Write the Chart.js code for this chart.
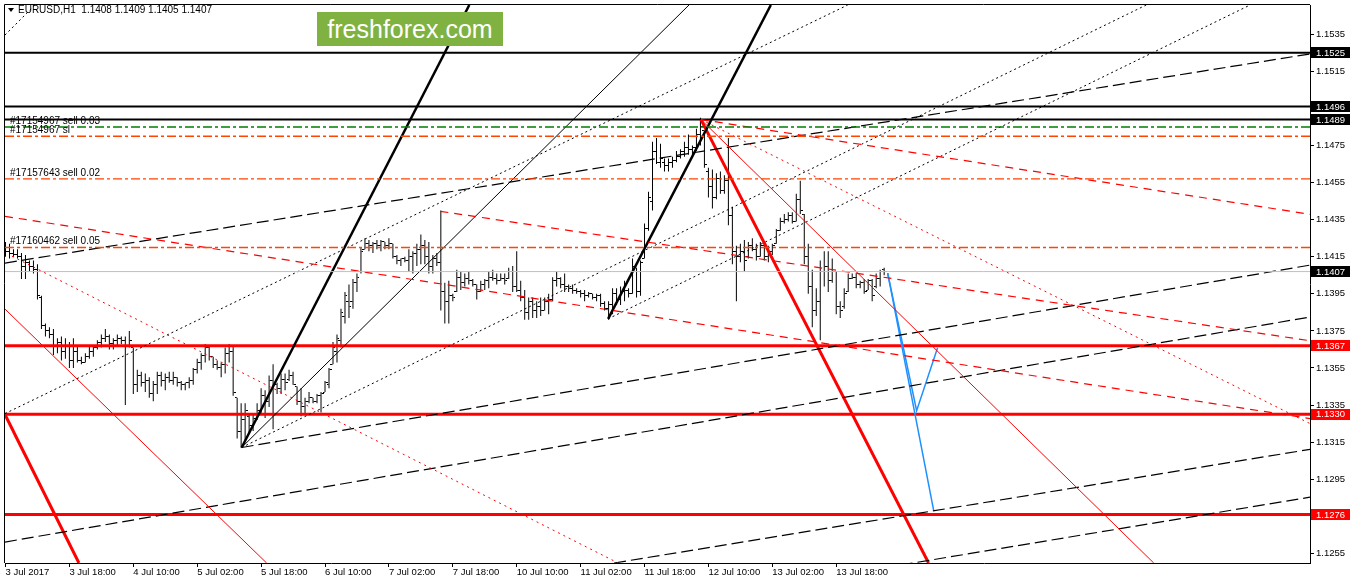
<!DOCTYPE html>
<html>
<head>
<meta charset="utf-8">
<title>EURUSD,H1</title>
<script src="https://cdn.jsdelivr.net/npm/chart.js@4.4.1/dist/chart.umd.min.js"></script>
<style>
	html, body { margin:0; padding:0; background:#fff; }
	#wrap { position:relative; width:1350px; height:584px; overflow:hidden; }
	#logo { position:absolute; left:317px; top:12px; width:186px; height:34px; background:#7fb241; color:#fff;
		font:25px "Liberation Sans", Arial, sans-serif; line-height:34px; text-align:center; }
</style>
</head>
<body>
<div id="wrap">
	<canvas id="chart" width="1350" height="584"></canvas>
	<div id="logo">freshforex.com</div>
</div>
<script>
// hourly bars, index 0 = 3 Jul 2017
var opens = [1.1421,1.1418,1.1417,1.1416,1.1415,1.1410,1.1412,1.1410,1.1408,1.1393,1.1378,1.1375,1.1373,1.1367,1.1369,1.1364,1.1367,1.1359,1.1364,1.1359,
	1.1358,1.1361,1.1364,1.1366,1.1369,1.1371,1.1372,1.1368,1.1370,1.1371,1.1370,1.1367,1.1366,1.1346,1.1351,1.1347,1.1348,1.1341,1.1346,1.1351,
	1.1348,1.1350,1.1348,1.1350,1.1347,1.1346,1.1347,1.1348,1.1354,1.1358,1.1362,1.1366,1.1361,1.1357,1.1355,1.1357,1.1363,1.1364,1.1339,1.1321,
	1.1327,1.1329,1.1324,1.1328,1.1332,1.1340,1.1337,1.1348,1.1346,1.1344,1.1349,1.1349,1.1351,1.1345,1.1337,1.1334,1.1337,1.1339,1.1337,1.1340,
	1.1342,1.1346,1.1357,1.1364,1.1370,1.1383,1.1391,1.1391,1.1401,1.1407,1.1419,1.1422,1.1421,1.1422,1.1421,1.1423,1.1421,1.1422,1.1415,1.1413,
	1.1414,1.1413,1.1415,1.1417,1.1419,1.1421,1.1415,1.1410,1.1414,1.1412,1.1396,1.1391,1.1394,1.1396,1.1404,1.1401,1.1403,1.1402,1.1400,1.1396,
	1.1400,1.1402,1.1404,1.1403,1.1402,1.1403,1.1403,1.1407,1.1399,1.1397,1.1393,1.1385,1.1391,1.1386,1.1388,1.1386,1.1391,1.1392,1.1402,1.1403,
	1.1400,1.1399,1.1398,1.1397,1.1396,1.1395,1.1394,1.1395,1.1393,1.1394,1.1390,1.1387,1.1389,1.1395,1.1392,1.1396,1.1397,1.1395,1.1409,1.1396,
	1.1414,1.1430,1.1445,1.1472,1.1466,1.1466,1.1464,1.1466,1.1467,1.1469,1.1472,1.1474,1.1473,1.1474,1.1481,1.1483,1.1461,1.1453,1.1447,1.1457,
	1.1451,1.1456,1.1437,1.1418,1.1415,1.1418,1.1415,1.1421,1.1419,1.1415,1.1421,1.1415,1.1418,1.1422,1.1429,1.1434,1.1435,1.1437,1.1434,1.1446,
	1.1438,1.1415,1.1399,1.1386,1.1391,1.1407,1.1410,1.1402,1.1407,1.1388,1.1388,1.1396,1.1403,1.1404,1.1400,1.1401,1.1397,1.1402,1.1399,1.1403,
	1.1408];
var highs = [1.1423,1.1422,1.1419,1.1419,1.1417,1.1416,1.1413,1.1413,1.1411,1.1394,1.1379,1.1377,1.1376,1.1371,1.1372,1.1371,1.1369,1.1371,1.1367,1.1361,
	1.1363,1.1367,1.1367,1.1370,1.1373,1.1376,1.1373,1.1371,1.1373,1.1372,1.1372,1.1375,1.1366,1.1354,1.1353,1.1352,1.1350,1.1348,1.1353,1.1353,
	1.1352,1.1353,1.1353,1.1350,1.1348,1.1347,1.1350,1.1355,1.1360,1.1363,1.1368,1.1367,1.1361,1.1359,1.1358,1.1366,1.1368,1.1367,1.1339,1.1336,
	1.1336,1.1330,1.1330,1.1336,1.1344,1.1343,1.1351,1.1357,1.1347,1.1352,1.1352,1.1354,1.1353,1.1345,1.1344,1.1339,1.1342,1.1339,1.1341,1.1342,
	1.1348,1.1355,1.1369,1.1373,1.1387,1.1396,1.1400,1.1403,1.1406,1.1420,1.1425,1.1424,1.1423,1.1424,1.1424,1.1423,1.1425,1.1422,1.1416,1.1414,
	1.1415,1.1419,1.1418,1.1422,1.1427,1.1424,1.1423,1.1416,1.1417,1.1440,1.1401,1.1402,1.1395,1.1408,1.1407,1.1406,1.1407,1.1403,1.1400,1.1402,
	1.1403,1.1407,1.1408,1.1406,1.1406,1.1406,1.1409,1.1410,1.1418,1.1402,1.1397,1.1393,1.1393,1.1391,1.1393,1.1393,1.1395,1.1404,1.1407,1.1404,
	1.1406,1.1400,1.1400,1.1398,1.1397,1.1397,1.1396,1.1395,1.1395,1.1395,1.1391,1.1391,1.1398,1.1398,1.1399,1.1402,1.1398,1.1414,1.1409,1.1413,
	1.1433,1.1450,1.1477,1.1479,1.1476,1.1468,1.1468,1.1469,1.1472,1.1473,1.1477,1.1481,1.1475,1.1484,1.1490,1.1483,1.1463,1.1462,1.1460,1.1461,
	1.1459,1.1479,1.1442,1.1421,1.1422,1.1424,1.1423,1.1425,1.1422,1.1423,1.1422,1.1421,1.1422,1.1430,1.1436,1.1438,1.1439,1.1439,1.1449,1.1456,
	1.1438,1.1422,1.1408,1.1398,1.1413,1.1418,1.1418,1.1414,1.1407,1.1391,1.1398,1.1406,1.1406,1.1406,1.1402,1.1403,1.1403,1.1403,1.1406,1.1408,
	1.1409];
var lows = [1.1415,1.1414,1.1415,1.1414,1.1403,1.1403,1.1407,1.1406,1.1392,1.1376,1.1372,1.1371,1.1362,1.1363,1.1359,1.1360,1.1355,1.1355,1.1358,1.1357,
	1.1358,1.1360,1.1361,1.1365,1.1366,1.1369,1.1365,1.1365,1.1367,1.1368,1.1335,1.1366,1.1341,1.1342,1.1345,1.1342,1.1339,1.1337,1.1341,1.1345,
	1.1343,1.1347,1.1346,1.1345,1.1343,1.1343,1.1344,1.1346,1.1352,1.1354,1.1358,1.1359,1.1355,1.1354,1.1350,1.1352,1.1358,1.1340,1.1317,1.1312,
	1.1316,1.1320,1.1321,1.1327,1.1330,1.1328,1.1334,1.1322,1.1341,1.1341,1.1343,1.1348,1.1346,1.1335,1.1329,1.1330,1.1336,1.1336,1.1336,1.1331,
	1.1342,1.1344,1.1357,1.1358,1.1366,1.1379,1.1382,1.1387,1.1396,1.1406,1.1419,1.1418,1.1417,1.1419,1.1418,1.1419,1.1419,1.1414,1.1411,1.1410,
	1.1412,1.1407,1.1406,1.1410,1.1411,1.1411,1.1406,1.1406,1.1410,1.1386,1.1379,1.1379,1.1391,1.1396,1.1397,1.1399,1.1400,1.1399,1.1392,1.1396,
	1.1397,1.1398,1.1402,1.1400,1.1402,1.1400,1.1403,1.1396,1.1396,1.1391,1.1381,1.1381,1.1382,1.1382,1.1383,1.1386,1.1384,1.1391,1.1399,1.1398,
	1.1396,1.1396,1.1395,1.1395,1.1393,1.1391,1.1393,1.1392,1.1391,1.1388,1.1386,1.1381,1.1384,1.1389,1.1389,1.1391,1.1393,1.1395,1.1393,1.1394,
	1.1414,1.1429,1.1440,1.1465,1.1463,1.1461,1.1461,1.1463,1.1466,1.1468,1.1469,1.1470,1.1470,1.1472,1.1475,1.1463,1.1447,1.1441,1.1446,1.1449,
	1.1449,1.1432,1.1411,1.1391,1.1412,1.1407,1.1414,1.1418,1.1413,1.1415,1.1413,1.1412,1.1416,1.1422,1.1429,1.1433,1.1434,1.1433,1.1434,1.1438,
	1.1411,1.1395,1.1377,1.1383,1.1370,1.1399,1.1396,1.1401,1.1384,1.1382,1.1387,1.1396,1.1403,1.1398,1.1398,1.1395,1.1397,1.1391,1.1398,1.1399,
	1.1405];
var closes = [1.1418,1.1417,1.1416,1.1415,1.1410,1.1412,1.1410,1.1408,1.1394,1.1378,1.1375,1.1373,1.1367,1.1369,1.1364,1.1367,1.1359,1.1364,1.1359,1.1358,
	1.1361,1.1364,1.1366,1.1369,1.1371,1.1372,1.1368,1.1370,1.1371,1.1370,1.1367,1.1370,1.1346,1.1351,1.1347,1.1348,1.1341,1.1346,1.1351,1.1348,
	1.1350,1.1348,1.1350,1.1347,1.1346,1.1347,1.1348,1.1354,1.1358,1.1362,1.1366,1.1361,1.1357,1.1355,1.1357,1.1363,1.1364,1.1342,1.1321,1.1327,
	1.1332,1.1324,1.1328,1.1332,1.1340,1.1337,1.1348,1.1346,1.1344,1.1349,1.1347,1.1351,1.1346,1.1337,1.1334,1.1337,1.1339,1.1337,1.1340,1.1341,
	1.1347,1.1354,1.1366,1.1371,1.1385,1.1394,1.1388,1.1401,1.1404,1.1418,1.1422,1.1421,1.1422,1.1421,1.1423,1.1421,1.1422,1.1415,1.1413,1.1414,
	1.1413,1.1415,1.1417,1.1419,1.1421,1.1415,1.1410,1.1414,1.1412,1.1396,1.1391,1.1394,1.1393,1.1404,1.1401,1.1403,1.1402,1.1400,1.1396,1.1400,
	1.1402,1.1404,1.1403,1.1402,1.1403,1.1402,1.1407,1.1399,1.1397,1.1393,1.1385,1.1391,1.1386,1.1388,1.1386,1.1391,1.1392,1.1402,1.1403,1.1400,
	1.1399,1.1398,1.1397,1.1396,1.1395,1.1394,1.1395,1.1393,1.1394,1.1390,1.1387,1.1389,1.1395,1.1392,1.1396,1.1397,1.1395,1.1410,1.1396,1.1412,
	1.1430,1.1447,1.1472,1.1466,1.1468,1.1464,1.1466,1.1467,1.1469,1.1472,1.1474,1.1473,1.1474,1.1481,1.1485,1.1465,1.1453,1.1447,1.1457,1.1451,
	1.1456,1.1437,1.1418,1.1415,1.1418,1.1413,1.1421,1.1419,1.1415,1.1421,1.1415,1.1418,1.1421,1.1429,1.1434,1.1435,1.1437,1.1434,1.1446,1.1440,
	1.1415,1.1399,1.1386,1.1391,1.1407,1.1410,1.1402,1.1407,1.1388,1.1386,1.1395,1.1403,1.1404,1.1400,1.1401,1.1396,1.1402,1.1394,1.1403,1.1407,
	1.1407];

// axes
var xTickIndex  = [0,16,32,48,64,80,96,112,128,144,160,176,192,208];
var xTickLabels = ['3 Jul 2017','3 Jul 18:00','4 Jul 10:00','5 Jul 02:00','5 Jul 18:00','6 Jul 10:00','7 Jul 02:00',
	'7 Jul 18:00','10 Jul 10:00','11 Jul 02:00','11 Jul 18:00','12 Jul 10:00','13 Jul 02:00','13 Jul 18:00'];
var yTicks = [1.1255,1.1275,1.1295,1.1315,1.1335,1.1355,1.1375,1.1395,1.1415,1.1435,1.1455,1.1475,1.1495,1.1515,1.1535];
var xMin = -0.125, xMax = 326.625;
var yMin = 1.12498, yMax = 1.15508;

// horizontal levels
var blackLevels = [1.1525, 1.1496, 1.1489];
var redLevels   = [1.1367, 1.1330, 1.1276];
var bidPrice    = 1.1407;
var orderLabels = ['#17154967 sell 0.03', '#17154967 sl', '#17157643 sell 0.02', '#17160462 sell 0.05'];
var orderPrices = [1.1485, 1.1480, 1.1457, 1.1420];
var orderColors = ['#008000', '#ff4500', '#ff4500', '#ff4500'];
var header = 'EURUSD,H1  1.1408 1.1409 1.1405 1.1407';

// trend lines: [bar, price, bar, price, ...]
var thickBlackLines = [[59.13,1.13121,116.13,1.15508], [150.88,1.13815,191.63,1.15508]];
var thinBlackLines  = [[59.13,1.13121,171.13,1.15508]];
var blackDashLines  = [[-0.13,1.14116,326.63,1.15244], [59.13,1.13121,326.63,1.14105], [-0.13,1.12611,326.63,1.13825],
	[152.38,1.12498,326.63,1.13111], [224.13,1.12487,326.63,1.12853]];
var blackDotLines   = [[-0.13,1.13304,210.88,1.15508], [59.13,1.13121,285.63,1.15508], [150.88,1.13815,311.63,1.15508],
	[-0.13,1.15346,7.38,1.15508]];
var thickRedLines   = [[174.13,1.14890,231.13,1.12498], [-0.13,1.13299,18.38,1.12498]];
var thinRedLines    = [[-0.13,1.13868,65.38,1.12498], [174.13,1.14890,287.5,1.12498]];
var redDashLines    = [[108.88,1.14395,326.63,1.13697], [-0.13,1.14368,326.63,1.13277], [174.13,1.14890,326.63,1.14379]];
var redDotLines     = [[1.63,1.14153,153.38,1.12498], [174.13,1.14890,326.63,1.13250]];
var blueLines       = [[220.88,1.14062,232.38,1.12783], [220.88,1.14062,228.13,1.13320,233.38,1.13659]];

var FONT = '"Liberation Sans", Arial, sans-serif';

// open/close marks: 2px to the left / right of the bar
function tickMark(side){
	var c = document.createElement('canvas');
	c.width = 5; c.height = 1;
	var g = c.getContext('2d');
	g.fillStyle = '#000';
	g.fillRect(side < 0 ? 0 : 3, 0, 2, 1);
	return c;
}

function lineSet(pts, color, width, dash){
	var data = [];
	for (var k = 0; k < pts.length; k += 2) data.push({x: pts[k], y: pts[k+1]});
	return { type:'line', data:data, borderColor:color, borderWidth:width, borderDash:dash || [],
		pointRadius:0, fill:false, tension:0, order:1 };
}

function addLines(list, lines, color, width, dash){
	lines.forEach(function(l){ list.push(lineSet(l, color, width, dash)); });
}

var datasets = [];
datasets.push({
	type:'bar',
	data: highs.map(function(h, i){ return {x:i, y:[lows[i], h]}; }),
	backgroundColor:'#000', borderWidth:0, barThickness:1, inflateAmount:0, order:10
});
datasets.push({
	type:'line', showLine:false, order:9,
	data: opens.map(function(v, i){ return {x:i, y:v}; }),
	pointStyle: tickMark(-1), pointRadius:2
});
datasets.push({
	type:'line', showLine:false, order:9,
	data: closes.map(function(v, i){ return {x:i, y:v}; }),
	pointStyle: tickMark(1), pointRadius:2
});

datasets.push(lineSet([xMin, bidPrice, xMax, bidPrice], '#c0c0c0', 1));
orderPrices.forEach(function(p, k){
	datasets.push(lineSet([xMin, p, xMax, p], orderColors[k], 1.3, [9,3,3,3]));
});
addLines(datasets, redDotLines, '#ff0000', 1, [2,4]);
addLines(datasets, redDashLines, '#ff0000', 1.2, [8,6]);
addLines(datasets, thinRedLines, '#ff0000', 1);
addLines(datasets, blackDotLines, '#000', 1, [2,3]);
addLines(datasets, blackDashLines, '#000', 1.2, [12,5]);
addLines(datasets, thinBlackLines, '#000', 1);
addLines(datasets, thickBlackLines, '#000', 2.5);
addLines(datasets, thickRedLines, '#ff0000', 3);
addLines(datasets, blueLines, '#1e90ff', 1.5);
blackLevels.forEach(function(p){ datasets.push(lineSet([xMin, p, xMax, p], '#000', 2)); });
redLevels.forEach(function(p){ datasets.push(lineSet([xMin, p, xMax, p], '#ff0000', 3)); });

// frame, header, order texts and price boxes on the right scale
var mt4Plugin = {
	id: 'mt4',
	afterDraw: function(chart){
		var ctx = chart.ctx, a = chart.chartArea, y = chart.scales.y;
		ctx.save();
		ctx.strokeStyle = '#000'; ctx.lineWidth = 1;
		ctx.beginPath();
		ctx.moveTo(a.left - 0.5, a.bottom); ctx.lineTo(a.left - 0.5, a.top - 0.5); ctx.lineTo(a.right, a.top - 0.5);
		ctx.stroke();

		ctx.fillStyle = '#000';
		ctx.beginPath(); ctx.moveTo(8, 8); ctx.lineTo(14, 8); ctx.lineTo(11, 12); ctx.closePath(); ctx.fill();
		ctx.font = '10px ' + FONT;
		ctx.textBaseline = 'middle';
		ctx.fillText(header, 18, 10.5);

		ctx.textBaseline = 'bottom';
		orderLabels.forEach(function(t, k){
			ctx.fillText(t, 10, Math.round(y.getPixelForValue(orderPrices[k])) - 1);
		});

		ctx.font = '9.5px ' + FONT;
		function box(p, bg){
			var py = y.getPixelForValue(p);
			ctx.fillStyle = bg;
			ctx.fillRect(1311, Math.round(py - 5.5), 39, 11);
			ctx.fillStyle = '#fff';
			ctx.textBaseline = 'middle';
			ctx.fillText(p.toFixed(4), 1316, py + 0.5);
		}
		blackLevels.forEach(function(p){ box(p, '#000'); });
		box(bidPrice, '#000');
		redLevels.forEach(function(p){ box(p, '#ff0000'); });
		ctx.restore();
	}
};

new Chart(document.getElementById('chart'), {
	type: 'bar',
	data: { datasets: datasets },
	plugins: [mt4Plugin],
	options: {
		responsive: false,
		devicePixelRatio: 1,
		animation: false,
		layout: { padding: { left:3, top:3, right:0, bottom:0 } },
		plugins: { legend: { display:false }, tooltip: { enabled:false } },
		scales: {
			x: {
				type:'linear', position:'bottom', min:xMin, max:xMax, offset:false,
				grid: { drawOnChartArea:false, drawTicks:true, tickLength:4, color:'#000', offset:false },
				border: { color:'#000', width:1 },
				ticks: {
					autoSkip:false, maxRotation:0, minRotation:0, align:'start', padding:0,
					color:'#000', font: { family:FONT, size:9.5 },
					callback: function(v){ var k = xTickIndex.indexOf(v); return k < 0 ? '' : xTickLabels[k]; }
				},
				afterBuildTicks: function(s){ s.ticks = xTickIndex.map(function(v){ return {value:v}; }); },
				afterFit: function(s){ s.height = 21; s.paddingLeft = 0; s.paddingRight = 0; }
			},
			y: {
				type:'linear', position:'right', min:yMin, max:yMax,
				grid: { drawOnChartArea:false, drawTicks:true, tickLength:4, color:'#000' },
				border: { color:'#000', width:1 },
				ticks: {
					autoSkip:false, padding:2, color:'#000', font: { family:FONT, size:9.5 },
					callback: function(v){ return v.toFixed(4); }
				},
				afterBuildTicks: function(s){ s.ticks = yTicks.map(function(v){ return {value:v}; }); },
				afterFit: function(s){ s.width = 40; s.paddingTop = 0; s.paddingBottom = 0; }
			}
		}
	}
});
</script>
</body>
</html>
